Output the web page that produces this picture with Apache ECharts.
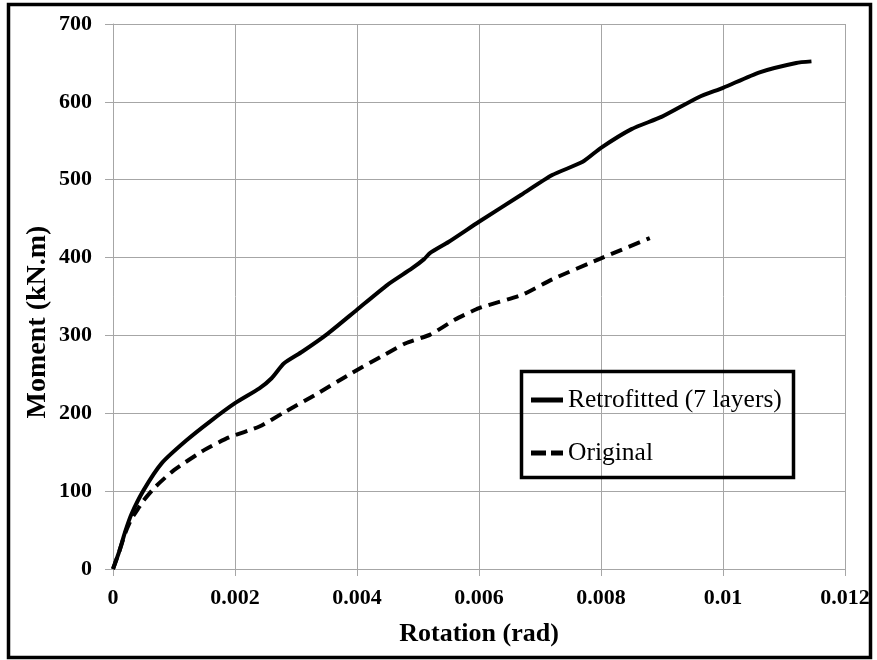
<!DOCTYPE html>
<html lang="en">
<head>
<meta charset="utf-8">
<title>Moment - Rotation</title>
<script src="https://cdn.jsdelivr.net/npm/echarts@6/dist/echarts.min.js"></script>
<style>
  html, body { margin: 0; padding: 0; background: #fff; }
  #main { width: 877px; height: 660px; }
</style>
</head>
<body>
<div id="main"></div>
<script type="text/javascript">
// data: [rotation (rad), moment (kN.m)]
var retrofitted = [
    [0, 0], [0.0001, 22], [0.0002, 48], [0.0003, 70], [0.0005, 101],
    [0.0008, 136], [0.0012, 165], [0.0016, 190], [0.002, 213], [0.0024, 232],
    [0.0026, 245], [0.0028, 264], [0.0031, 279], [0.0035, 301], [0.004, 333],
    [0.0045, 365], [0.0049, 386], [0.0051, 398], [0.0052, 406], [0.0055, 420],
    [0.006, 446], [0.0067, 481], [0.0072, 506], [0.0077, 523], [0.008, 541],
    [0.0085, 565], [0.009, 581], [0.0096, 606], [0.01, 618], [0.0106, 638],
    [0.0112, 650], [0.01145, 652]
];
var original = [
    [0, 0], [0.0001, 22], [0.0002, 46], [0.0003, 64], [0.0004, 76],
    [0.0005, 88], [0.0007, 106], [0.001, 127], [0.0015, 153], [0.0019, 169],
    [0.0024, 183], [0.0028, 201], [0.0033, 223], [0.0039, 251], [0.0044, 273],
    [0.0048, 290], [0.0052, 301], [0.0056, 320], [0.006, 335], [0.0067, 352],
    [0.0072, 372], [0.008, 399], [0.0088, 425]
];
var seriesNames = ['Retrofitted (7 layers)', 'Original'];
var xTickLabels = ['0', '0.002', '0.004', '0.006', '0.008', '0.01', '0.012'];
var yTickLabels = ['0', '100', '200', '300', '400', '500', '600', '700'];

var FONT = '"Liberation Serif", "Times New Roman", serif';
var GRID = '#a6a6a6';

var myChart = echarts.init(document.getElementById('main'));

var option = {
    animation: false,
    backgroundColor: '#fff',
    grid: { left: 113, right: 32, top: 24, bottom: 91 },
    legend: {
        orient: 'vertical',
        left: 531,
        top: 386,
        itemWidth: 32,
        itemHeight: 5,
        itemGap: 25,
        padding: 0,
        data: [
            { name: seriesNames[0], icon: 'rect' },
            { name: seriesNames[1], icon: 'path://M0,0H15V5H0Z M20,0H32V5H20Z' }
        ],
        itemStyle: { color: '#000' },
        textStyle: { fontFamily: FONT, fontSize: 25.5, color: '#000', lineHeight: 28 }
    },
    xAxis: {
        type: 'value',
        min: 0, max: 0.012, interval: 0.002,
        name: 'Rotation (rad)',
        nameLocation: 'middle',
        nameGap: 52,
        nameTextStyle: { fontFamily: FONT, fontSize: 26, fontWeight: 'bold', color: '#000' },
        axisLine: { show: true, lineStyle: { color: GRID, width: 1 } },
        axisTick: { show: true, length: 7, lineStyle: { color: GRID } },
        axisLabel: {
            margin: 18,
            fontFamily: FONT, fontSize: 22, fontWeight: 'bold', color: '#000',
            formatter: function (v, i) { return xTickLabels[i]; }
        },
        splitLine: { show: true, lineStyle: { color: GRID, width: 1 } }
    },
    yAxis: {
        type: 'value',
        min: 0, max: 700, interval: 100,
        axisLine: { show: true, lineStyle: { color: GRID, width: 1 } },
        axisTick: { show: true, length: 8, lineStyle: { color: GRID } },
        axisLabel: {
            margin: 21,
            fontFamily: FONT, fontSize: 22, fontWeight: 'bold', color: '#000',
            formatter: function (v, i) { return yTickLabels[i]; }
        },
        splitLine: { show: true, lineStyle: { color: GRID, width: 1 } }
    },
    graphic: [
        {   // outer frame
            type: 'rect', z: 10, silent: true,
            shape: { x: 8.5, y: 4.5, width: 862, height: 653 },
            style: { fill: 'none', stroke: '#000', lineWidth: 3.5 }
        },
        {   // legend box
            type: 'rect', z: 10, silent: true,
            shape: { x: 521.5, y: 371.5, width: 272, height: 106 },
            style: { fill: 'none', stroke: '#000', lineWidth: 3.5 }
        },
        {
            type: 'text', z: 10,
            x: 38, y: 322, rotation: Math.PI / 2,
            style: {
                text: 'Moment (kN.m)',
                font: 'bold 28px ' + FONT,
                fill: '#000',
                align: 'center',
                verticalAlign: 'middle'
            }
        }
    ],
    series: [
        {
            name: seriesNames[0],
            type: 'line',
            data: retrofitted,
            smooth: 0.2,
            symbol: 'none',
            lineStyle: { color: '#000', width: 4 },
            itemStyle: { color: '#000' }
        },
        {
            name: seriesNames[1],
            type: 'line',
            data: original,
            smooth: 0.2,
            symbol: 'none',
            lineStyle: { color: '#000', width: 4, type: [12, 7] },
            itemStyle: { color: '#000' }
        }
    ]
};

myChart.setOption(option);
</script>
</body>
</html>
